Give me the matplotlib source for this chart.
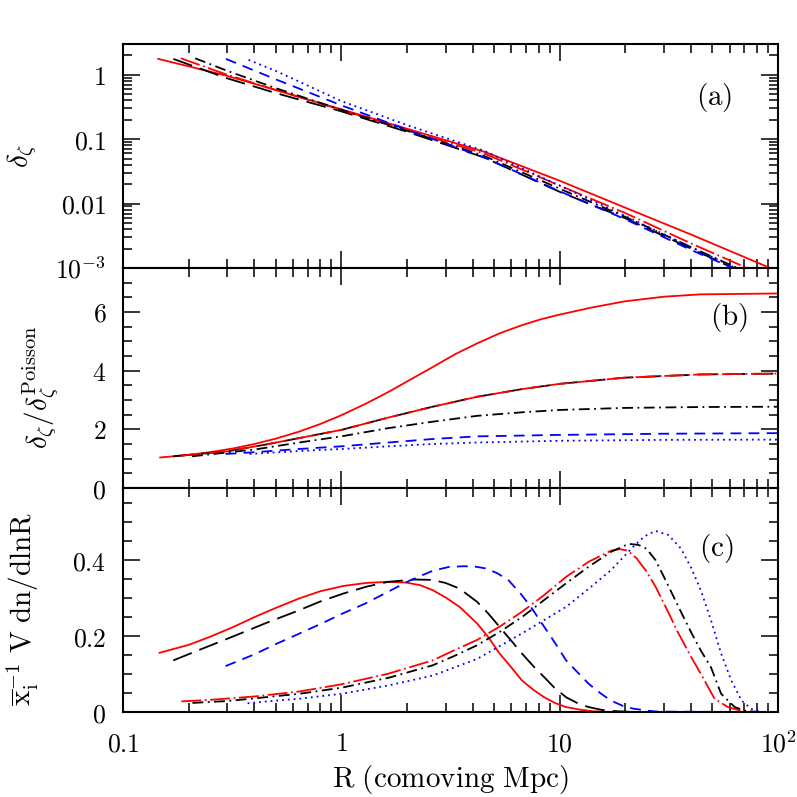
import matplotlib
matplotlib.use("Agg")
import matplotlib.pyplot as plt
from matplotlib.ticker import FixedLocator, FixedFormatter, LogLocator, NullFormatter, MultipleLocator

plt.rcParams['mathtext.fontset'] = 'cm'
plt.rcParams['font.family'] = ['DejaVu Serif']

# ---------------- Panel (a): delta_zeta vs R ----------------
a_red_solid_R = [0.145, 0.2, 0.3, 0.5, 1, 2, 4.5, 10, 20, 40, 92]
a_red_solid_v = [1.76, 1.35, 0.96, 0.58, 0.29, 0.145, 0.064, 0.0226, 0.0086, 0.0033, 0.001]
a_blk_dash_R = [0.17, 0.3, 0.5, 1, 2, 4.5, 10, 20, 40, 62]
a_blk_dash_v = [1.76, 0.88, 0.52, 0.27, 0.13, 0.052, 0.0152, 0.0059, 0.002, 0.001]
a_red_dd_R = [0.184, 0.3, 0.5, 1, 2, 4.5, 10, 20, 40, 72]
a_red_dd_v = [1.8, 1.0, 0.58, 0.285, 0.137, 0.06, 0.019, 0.0071, 0.0024, 0.001]
a_blk_dd_R = [0.214, 0.3, 0.5, 1, 2, 4.5, 10, 20, 40, 65]
a_blk_dd_v = [1.8, 1.15, 0.62, 0.285, 0.135, 0.055, 0.017, 0.0062, 0.0021, 0.001]
a_blu_dash_R = [0.296, 0.5, 1, 2, 4.5, 10, 20, 40, 62]
a_blu_dash_v = [1.76, 0.85, 0.335, 0.14, 0.052, 0.0155, 0.0057, 0.0019, 0.001]
a_blu_dot_R = [0.376, 0.5, 1, 2, 4.5, 10, 20, 40, 64]
a_blu_dot_v = [1.7, 1.15, 0.39, 0.165, 0.066, 0.019, 0.0064, 0.0021, 0.001]

# ---------------- Panel (b): delta_zeta / delta_zeta^Poisson ----------------
b_red_solid_R = [0.148, 0.2, 0.25, 0.32, 0.40, 0.5, 0.64, 0.8, 1.0, 1.3, 1.64, 2.1, 2.62, 3.3, 4.19, 5.3, 6.72, 8.2, 10, 14, 19.8, 30, 44, 100]
b_red_solid_v = [1.04, 1.13, 1.22, 1.35, 1.50, 1.68, 1.92, 2.18, 2.48, 2.88, 3.27, 3.72, 4.12, 4.55, 4.93, 5.27, 5.55, 5.75, 5.91, 6.15, 6.36, 6.52, 6.60, 6.63]
b_blk_dash_R = [0.17, 0.3, 0.45, 0.64, 1.0, 1.64, 2.62, 4.19, 6.72, 10, 19.8, 44, 100]
b_blk_dash_v = [1.08, 1.25, 1.48, 1.70, 1.98, 2.40, 2.77, 3.11, 3.37, 3.55, 3.76, 3.87, 3.90]
b_red_dd_R = [0.184, 0.3, 0.45, 0.64, 1.0, 1.64, 2.62, 4.19, 6.72, 10, 19.8, 44, 100]
b_red_dd_v = [1.1, 1.25, 1.48, 1.70, 1.98, 2.40, 2.77, 3.11, 3.37, 3.55, 3.76, 3.87, 3.90]
b_blk_dd_R = [0.207, 0.40, 0.64, 1.0, 1.64, 2.62, 4.19, 6.72, 10, 19.8, 44, 100]
b_blk_dd_v = [1.08, 1.31, 1.55, 1.76, 2.04, 2.26, 2.46, 2.58, 2.66, 2.73, 2.76, 2.77]
b_blu_dash_R = [0.295, 0.4, 0.64, 1.0, 1.64, 2.62, 4.19, 10, 30, 100]
b_blu_dash_v = [1.16, 1.22, 1.33, 1.42, 1.55, 1.67, 1.76, 1.81, 1.85, 1.87]
b_blu_dot_R = [0.38, 0.64, 1.0, 1.64, 2.62, 4.19, 10, 30, 100]
b_blu_dot_v = [1.16, 1.26, 1.33, 1.42, 1.50, 1.55, 1.61, 1.64, 1.65]

# ---------------- Panel (c): xbar^-1 V dn/dlnR ----------------
c_red_solid_R = [0.147, 0.2, 0.25, 0.32, 0.40, 0.5, 0.64, 0.8, 1.02, 1.3, 1.64, 1.98, 2.3, 2.62, 3.0, 3.48, 4.19, 4.7, 5.31, 6.0, 6.72, 7.6, 8.49, 9.5, 10.7, 12.5, 14.2, 17, 100]
c_red_solid_v = [0.156, 0.177, 0.198, 0.224, 0.250, 0.274, 0.299, 0.318, 0.332, 0.340, 0.343, 0.341, 0.334, 0.321, 0.302, 0.277, 0.233, 0.198, 0.154, 0.118, 0.083, 0.058, 0.039, 0.024, 0.013, 0.006, 0.002, 0.0, 0.0]
c_blk_dash_R = [0.17, 0.22, 0.316, 0.45, 0.64, 0.8, 1.02, 1.3, 1.64, 2.17, 2.62, 3.0, 3.48, 4.19, 4.7, 5.31, 6.0, 6.72, 7.6, 8.49, 9.5, 10.7, 12.2, 13.6, 15.5, 17.2, 22, 100]
c_blk_dash_v = [0.136, 0.162, 0.198, 0.234, 0.268, 0.291, 0.312, 0.330, 0.343, 0.349, 0.348, 0.340, 0.325, 0.290, 0.260, 0.224, 0.188, 0.154, 0.120, 0.092, 0.063, 0.039, 0.022, 0.013, 0.006, 0.003, 0.0, 0.0]
c_blu_dash_R = [0.295, 0.4, 0.506, 0.65, 0.811, 1.0, 1.29, 1.64, 2.07, 2.62, 3.1, 3.64, 4.1, 4.61, 5.2, 5.83, 6.6, 7.38, 8.1, 8.91, 9.8, 10.7, 12.2, 13.6, 15.5, 17.2, 19.5, 21.7, 25, 28, 100]
c_blu_dash_v = [0.121, 0.152, 0.180, 0.208, 0.233, 0.258, 0.286, 0.317, 0.347, 0.372, 0.382, 0.384, 0.383, 0.378, 0.365, 0.347, 0.313, 0.277, 0.242, 0.207, 0.171, 0.136, 0.102, 0.074, 0.048, 0.030, 0.016, 0.009, 0.004, 0.001, 0.0]
c_red_dd_R = [0.185, 0.25, 0.40, 0.64, 1.0, 1.64, 2.62, 3.3, 4.19, 5.31, 6.72, 8.49, 10.7, 13.6, 17.2, 18.9, 20.5, 22.5, 25, 27.5, 31, 34.8, 40, 44.3, 51.2, 59, 68, 80, 100]
c_red_dd_v = [0.028, 0.032, 0.041, 0.054, 0.073, 0.101, 0.136, 0.163, 0.190, 0.225, 0.264, 0.308, 0.356, 0.396, 0.425, 0.429, 0.425, 0.405, 0.37, 0.33, 0.27, 0.21, 0.145, 0.101, 0.035, 0.013, 0.003, 0.0, 0.0]
c_blk_dd_R = [0.208, 0.3, 0.40, 0.64, 1.0, 1.64, 2.62, 3.3, 4.19, 5.31, 6.72, 8.49, 10.7, 13.6, 17.2, 20.7, 23, 25, 27.5, 31, 34.8, 40, 44.3, 49.3, 54.9, 63.4, 72, 85, 100]
c_blk_dd_v = [0.024, 0.029, 0.036, 0.048, 0.064, 0.090, 0.123, 0.148, 0.176, 0.211, 0.250, 0.295, 0.339, 0.383, 0.422, 0.443, 0.44, 0.43, 0.40, 0.34, 0.28, 0.21, 0.162, 0.118, 0.048, 0.013, 0.002, 0.0, 0.0]
c_blu_dot_R = [0.372, 0.5, 0.64, 1.0, 1.64, 2.62, 4.19, 6.72, 10.7, 13.6, 17.2, 21.7, 24.5, 27.5, 31.5, 36, 40, 44.3, 49.3, 54.9, 61.1, 68.1, 75.7, 84.3, 100]
c_blu_dot_v = [0.023, 0.030, 0.035, 0.048, 0.070, 0.096, 0.140, 0.207, 0.277, 0.325, 0.374, 0.435, 0.463, 0.477, 0.466, 0.43, 0.38, 0.321, 0.242, 0.154, 0.083, 0.030, 0.008, 0.0, 0.0]

x_ticks = [0.1, 1, 10, 100]
x_ticklabels = [r'$0.1$', r'$1$', r'$10$', r'$10^2$']
a_yticks = [1e-3, 0.01, 0.1, 1]
a_yticklabels = [r'$10^{-3}$', r'$0.01$', r'$0.1$', r'$1$']
b_yticks = [0, 2, 4, 6]
b_yticklabels = [r'$0$', r'$2$', r'$4$', r'$6$']
c_yticks = [0, 0.2, 0.4]
c_yticklabels = [r'$0$', r'$0.2$', r'$0.4$']

RED = (1, 0, 0)
BLUE = (0, 0, 1)
LW = 1.3
styles = {
    'red_solid': dict(color=RED, lw=LW, ls='-'),
    'blk_dash': dict(color='black', lw=LW, ls=(0, (11, 4.5))),
    'red_dd': dict(color=RED, lw=LW, ls=(0, (11, 2, 1, 2))),
    'blk_dd': dict(color='black', lw=LW, ls=(0, (6, 2.5, 1, 2.5))),
    'blu_dash': dict(color=BLUE, lw=LW, ls=(0, (6, 4))),
    'blu_dot': dict(color=BLUE, lw=LW, ls=(0, (1, 2.2))),
}

fig = plt.figure(figsize=(7.97, 7.97), dpi=100)
L, W = 123 / 797, 655 / 797
axa = fig.add_axes([L, 0.6638, W, 0.2810])
axb = fig.add_axes([L, 0.3877, W, 0.2761])
axc = fig.add_axes([L, 0.1066, W, 0.2811])

panels = [
    (axa, [(a_red_solid_R, a_red_solid_v, 'red_solid'), (a_blk_dash_R, a_blk_dash_v, 'blk_dash'),
           (a_red_dd_R, a_red_dd_v, 'red_dd'), (a_blk_dd_R, a_blk_dd_v, 'blk_dd'),
           (a_blu_dash_R, a_blu_dash_v, 'blu_dash'), (a_blu_dot_R, a_blu_dot_v, 'blu_dot')]),
    (axb, [(b_red_solid_R, b_red_solid_v, 'red_solid'), (b_blk_dash_R, b_blk_dash_v, 'blk_dash'),
           (b_red_dd_R, b_red_dd_v, 'red_dd'), (b_blk_dd_R, b_blk_dd_v, 'blk_dd'),
           (b_blu_dash_R, b_blu_dash_v, 'blu_dash'), (b_blu_dot_R, b_blu_dot_v, 'blu_dot')]),
    (axc, [(c_red_solid_R, c_red_solid_v, 'red_solid'), (c_blk_dash_R, c_blk_dash_v, 'blk_dash'),
           (c_blu_dash_R, c_blu_dash_v, 'blu_dash'), (c_red_dd_R, c_red_dd_v, 'red_dd'),
           (c_blk_dd_R, c_blk_dd_v, 'blk_dd'), (c_blu_dot_R, c_blu_dot_v, 'blu_dot')]),
]

for ax, curves in panels:
    for R, v, st in curves:
        ax.plot(R, v, **styles[st])
    ax.set_xscale('log')
    ax.set_xlim(0.1, 100)
    ax.xaxis.set_major_locator(FixedLocator(x_ticks))
    ax.xaxis.set_minor_locator(LogLocator(base=10, subs=range(2, 10), numticks=20))
    ax.xaxis.set_minor_formatter(NullFormatter())
    ax.tick_params(which='both', direction='in', top=True, right=True, labelsize=18.5)
    ax.tick_params(axis='y', pad=12)
    ax.tick_params(axis='x', pad=14)
    ax.tick_params(which='major', length=12.5, width=1.1)
    ax.tick_params(which='minor', length=6.7, width=1.1)
    for s in ax.spines.values():
        s.set_linewidth(1.5)
    if ax is not axc:
        ax.tick_params(labelbottom=False)

axc.xaxis.set_major_formatter(FixedFormatter(x_ticklabels))

axa.set_yscale('log')
axa.set_ylim(1e-3, 3)
axa.yaxis.set_major_locator(FixedLocator(a_yticks))
axa.yaxis.set_major_formatter(FixedFormatter(a_yticklabels))
axa.yaxis.set_minor_locator(LogLocator(base=10, subs=range(2, 10), numticks=20))
axa.yaxis.set_minor_formatter(NullFormatter())

axb.set_ylim(0, 7.5)
axb.yaxis.set_major_locator(FixedLocator(b_yticks))
axb.yaxis.set_major_formatter(FixedFormatter(b_yticklabels))
axb.yaxis.set_minor_locator(MultipleLocator(0.5))

axc.set_ylim(0, 0.59)
axc.yaxis.set_major_locator(FixedLocator(c_yticks))
axc.yaxis.set_major_formatter(FixedFormatter(c_yticklabels))
axc.yaxis.set_minor_locator(MultipleLocator(0.05))

for ax, lab, px, py in [(axa, '(a)', 0.903, 0.76), (axb, '(b)', 0.925, 0.777), (axc, '(c)', 0.906, 0.73)]:
    ax.text(px, py, r'$\mathrm{' + lab + '}$', transform=ax.transAxes, ha='center', va='center', fontsize=21)

axa.set_ylabel(r'$\delta_\zeta$', fontsize=21)
axa.yaxis.set_label_coords(-0.128, 0.5)
axb.set_ylabel(r'$\delta_\zeta/\delta_\zeta^{\mathrm{Poisson}}$', fontsize=21)
axb.yaxis.set_label_coords(-0.094, 0.46)
axc.set_ylabel(r'$\overline{\mathrm{x}}_\mathrm{i}^{-1}\ \mathrm{V\ dn/dlnR}$', fontsize=21)
axc.yaxis.set_label_coords(-0.125, 0.46)
axc.set_xlabel(r'$\mathrm{R\ (comoving\ Mpc)}$', fontsize=21, labelpad=4)

fig.savefig('out.png', dpi=100)
